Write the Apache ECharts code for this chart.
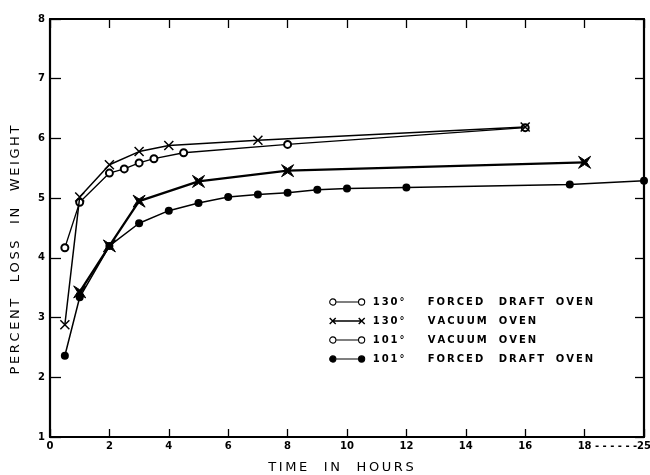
<!DOCTYPE html>
<html>
<head>
<meta charset="utf-8">
<script src="https://cdn.jsdelivr.net/npm/echarts@6/dist/echarts.min.js"></script>
<style>
  html, body { margin: 0; padding: 0; background: #fff; }
  #chart { width: 650px; height: 475px; }
</style>
</head>
<body>
<div id="chart"></div>
<script>
// ---- data (hours, percent loss in weight) ----
const seriesNames = ['130° FORCED DRAFT OVEN', '130° VACUUM OVEN', '101° VACUUM OVEN', '101° FORCED DRAFT OVEN'];
const hoursA = [0.5, 1, 2, 2.5, 3, 3.5, 4.5, 8, 16];
const lossA  = [4.17, 4.93, 5.42, 5.49, 5.59, 5.66, 5.76, 5.90, 6.18];
const hoursB = [0.5, 1, 2, 3, 4, 7, 16];
const lossB  = [2.88, 5.02, 5.56, 5.78, 5.88, 5.97, 6.19];
const hoursC = [1, 2, 3, 5, 8, 18];
const lossC  = [3.43, 4.20, 4.95, 5.28, 5.46, 5.60];
const hoursD = [0.5, 1, 2, 3, 4, 5, 6, 7, 8, 9, 10, 12, 17.5, 25];
const lossD  = [2.36, 3.34, 4.20, 4.58, 4.79, 4.92, 5.02, 5.06, 5.09, 5.14, 5.16, 5.18, 5.23, 5.29];
const xTickLabels = ['0', '2', '4', '6', '8', '10', '12', '14', '16', '18', '25'];
const yTickLabels = ['1', '2', '3', '4', '5', '6', '7', '8'];

// broken time axis: 0..18 linear, 18..25 compressed into one 2-hour step
const BREAK = 18, BREAK_END = 25;
function axisPos(h) { return h <= BREAK ? h : BREAK + (h - BREAK) * 2 / (BREAK_END - BREAK); }
function pairs(xs, ys) { return xs.map((x, i) => [axisPos(x), ys[i]]); }
const spaced = (s, sep) => s.split('').join(sep);

const FONT = 'DejaVu Sans';
const X_SYM = 'path://M0,0 L10,10 M0,10 L10,0';
const X_BOLD = 'path://M0,0 L5,3.2 L10,0 L6.8,5 L10,10 L5,6.8 L0,10 L3.2,5 Z';
const ICON_OPEN = 'path://M0.5,4 A3,3 0 1,1 6.5,4 A3,3 0 1,1 0.5,4 Z M6.5,4 L28.5,4 M28.5,4 A3,3 0 1,1 34.5,4 A3,3 0 1,1 28.5,4 Z';
const ICON_X = 'path://M0,1 L6,7 M0,7 L6,1 M3,4 L32,4 M29,1 L35,7 M29,7 L35,1';

const chart = echarts.init(document.getElementById('chart'), null, { renderer: 'canvas' });

const axisLineStyle = { color: '#000', width: 2.2 };
const TS = '\u2009';
const option = {
  animation: false,
  backgroundColor: '#fff',
  grid: { left: 50, right: 6, top: 19, bottom: 38, containLabel: false, outerBoundsMode: 'none' },
  xAxis: [{
    type: 'value', position: 'bottom', min: 0, max: 20, interval: 2,
    name: spaced('TIME', TS) + '    ' + spaced('IN', TS) + '    ' + spaced('HOURS', TS),
    nameLocation: 'middle', nameGap: 24,
    nameTextStyle: { fontFamily: FONT, fontSize: 13, color: '#000', padding: [0, 12, 0, 0] },
    axisLine: { show: true, onZero: false, lineStyle: axisLineStyle },
    axisTick: { show: true, inside: true, length: 8, lineStyle: { color: '#000', width: 1.3 } },
    splitLine: { show: false },
    axisLabel: {
      fontFamily: FONT, fontSize: 10, fontWeight: 'bold', color: '#000', margin: 4,
      formatter: function (v) {
        const i = Math.round(v / 2);
        if (i === xTickLabels.length - 1) return '{d|- - - - - -}{n|' + xTickLabels[i] + '}';
        return xTickLabels[i];
      },
      rich: {
        d: { fontFamily: FONT, fontSize: 10, fontWeight: 'bold', color: '#000', width: 42 },
        n: { fontFamily: FONT, fontSize: 10, fontWeight: 'bold', color: '#000', padding: [0, 42, 0, 0] }
      }
    }
  }, {
    type: 'value', position: 'top', min: 0, max: 20, interval: 2,
    axisLine: { show: true, onZero: false, lineStyle: axisLineStyle },
    axisTick: { show: true, inside: true, length: 9, lineStyle: { color: '#000', width: 1.3 } },
    axisLabel: { show: false }, splitLine: { show: false }
  }],
  yAxis: [{
    type: 'value', position: 'left', min: 1, max: 8, interval: 1,
    name: spaced('PERCENT', TS) + '    ' + spaced('LOSS', TS) + '    ' + spaced('IN', TS) + '    ' + spaced('WEIGHT', TS),
    nameLocation: 'middle', nameGap: 28, nameRotate: 90,
    nameTextStyle: { fontFamily: FONT, fontSize: 13, color: '#000', padding: [0, 44, 0, 0] },
    axisLine: { show: true, onZero: false, lineStyle: axisLineStyle },
    axisTick: { show: true, inside: true, length: 11, lineStyle: { color: '#000', width: 1.3 } },
    splitLine: { show: false },
    axisLabel: {
      fontFamily: FONT, fontSize: 10, fontWeight: 'bold', color: '#000', margin: 5,
      formatter: function (v) { return yTickLabels[Math.round(v) - 1]; }
    }
  }, {
    type: 'value', position: 'right', min: 1, max: 8, interval: 1,
    axisLine: { show: true, onZero: false, lineStyle: axisLineStyle },
    axisTick: { show: true, inside: true, length: 9, lineStyle: { color: '#000', width: 1.3 } },
    axisLabel: { show: false }, splitLine: { show: false }
  }],
  legend: {
    orient: 'vertical', left: 324, top: 291,
    itemWidth: 35, itemHeight: 7, itemGap: 7,
    selectedMode: false,
    formatter: function (name) {
      const w = name.split(' ');
      return w.map((word, i) => '{c' + (i + 1) + '|' + spaced(word, TS) + '}').join('');
    },
    textStyle: {
      fontFamily: FONT, fontSize: 10, color: '#000', lineHeight: 12,
      rich: {
        c1: { fontFamily: FONT, fontSize: 10, fontWeight: 'bold', color: '#000', width: 55, padding: [0, 0, 0, 3] },
        c2: { fontFamily: FONT, fontSize: 10, fontWeight: 'bold', color: '#000', width: 71 },
        c3: { fontFamily: FONT, fontSize: 10, fontWeight: 'bold', color: '#000', width: 57 },
        c4: { fontFamily: FONT, fontSize: 10, fontWeight: 'bold', color: '#000' }
      }
    },
    data: [
      { name: seriesNames[0], icon: ICON_OPEN, itemStyle: { color: '#fff', borderColor: '#000', borderWidth: 1.1 } },
      { name: seriesNames[1], icon: ICON_X, itemStyle: { color: '#000', borderColor: '#000', borderWidth: 1.4 } },
      { name: seriesNames[2], icon: ICON_OPEN, itemStyle: { color: '#fff', borderColor: '#000', borderWidth: 1.1 } },
      { name: seriesNames[3], icon: ICON_OPEN, itemStyle: { color: '#000', borderColor: '#000', borderWidth: 1.1 } }
    ]
  },
  series: [{
    name: seriesNames[0], type: 'line', data: pairs(hoursA, lossA),
    symbol: 'emptyCircle', symbolSize: 7, z: 2,
    lineStyle: { color: '#000', width: 1.3 },
    itemStyle: { color: '#000', borderColor: '#000', borderWidth: 1.1 }
  }, {
    name: seriesNames[3], type: 'line', data: pairs(hoursD, lossD),
    symbol: 'circle', symbolSize: 8, z: 3,
    lineStyle: { color: '#000', width: 1.5 },
    itemStyle: { color: '#000' }
  }, {
    name: seriesNames[2], type: 'line', data: pairs(hoursC, lossC),
    symbol: X_BOLD, symbolSize: 12, z: 4,
    lineStyle: { color: '#000', width: 2.3 },
    itemStyle: { color: '#000', borderColor: '#000', borderWidth: 1 }
  }, {
    name: seriesNames[1], type: 'line', data: pairs(hoursB, lossB),
    symbol: X_SYM, symbolSize: 9, z: 5,
    lineStyle: { color: '#000', width: 1.5 },
    itemStyle: { color: '#000', borderColor: '#000', borderWidth: 1.5 }
  }]
};
chart.setOption(option);
</script>
</body>
</html>
